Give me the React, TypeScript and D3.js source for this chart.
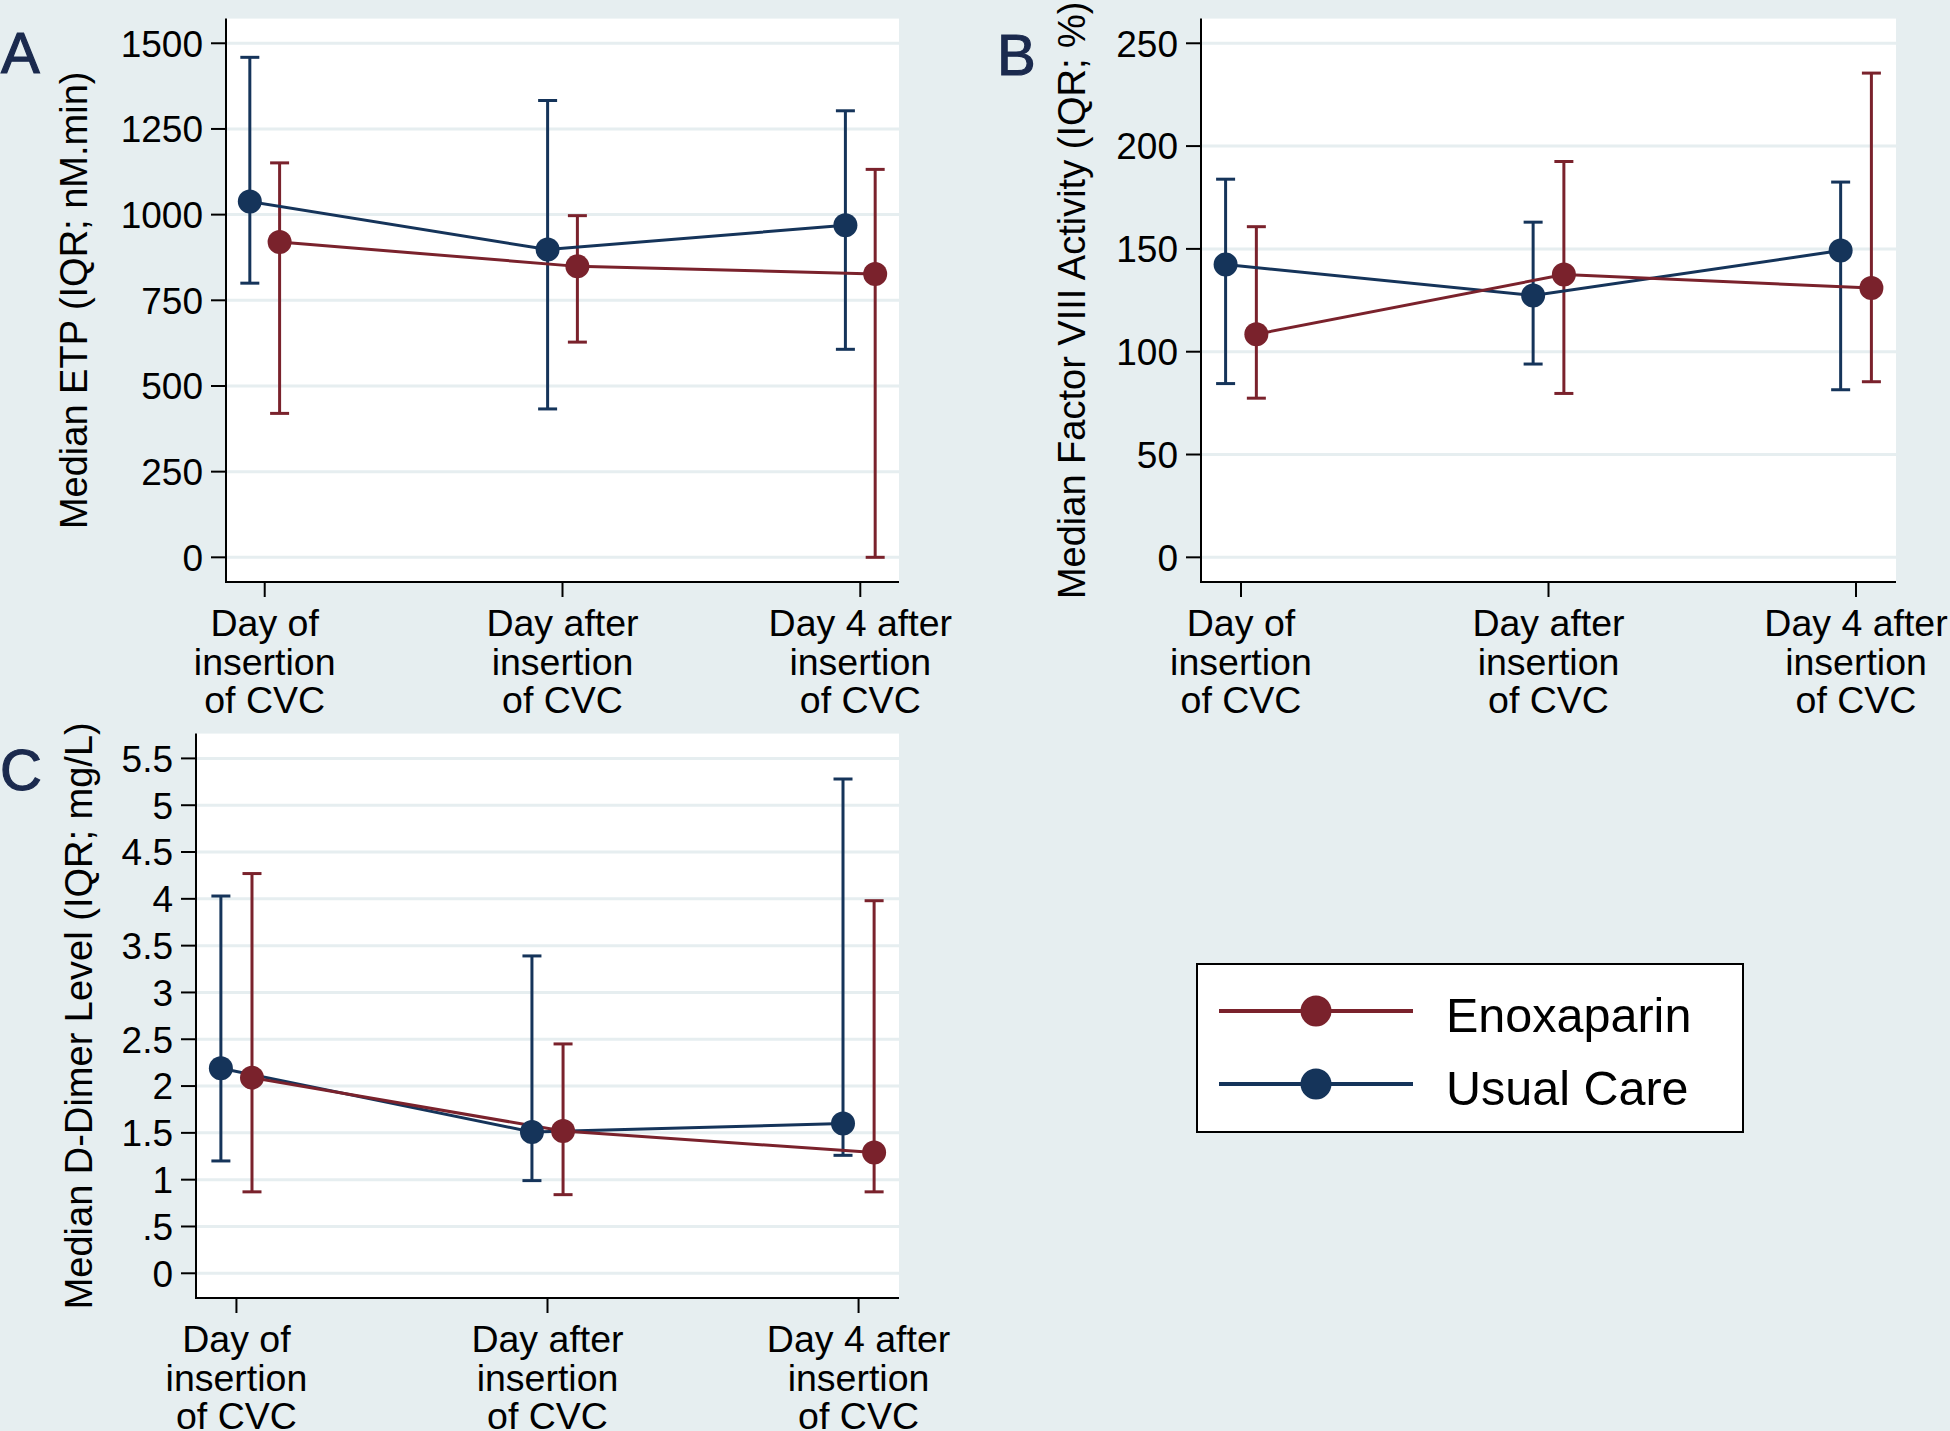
import React from "react";
import * as d3 from "d3";

// ---------- DATA ----------
const categoryLines: string[][] = [
  ["Day of", "insertion", "of CVC"],
  ["Day after", "insertion", "of CVC"],
  ["Day 4 after", "insertion", "of CVC"],
];
const seriesNames = ["Enoxaparin", "Usual Care"];

// Panel A: ETP (nM.min)
const etpEnoxMedian = [920, 849, 827];
const etpEnoxLow = [420, 628, 0];
const etpEnoxHigh = [1151, 997, 1132];
const etpUsualMedian = [1038, 898, 969];
const etpUsualLow = [800, 433, 607];
const etpUsualHigh = [1459, 1333, 1303];
const etpTicks = [0, 250, 500, 750, 1000, 1250, 1500];

// Panel B: Factor VIII (%)
const f8EnoxMedian = [108.5, 137.5, 131];
const f8EnoxLow = [77.4, 79.7, 85.4];
const f8EnoxHigh = [160.8, 192.5, 235.5];
const f8UsualMedian = [142.4, 127.3, 149.2];
const f8UsualLow = [84.5, 94, 81.5];
const f8UsualHigh = [183.9, 163, 182.5];
const f8Ticks = [0, 50, 100, 150, 200, 250];

// Panel C: D-Dimer (mg/L)
const ddEnoxMedian = [2.09, 1.52, 1.29];
const ddEnoxLow = [0.87, 0.84, 0.87];
const ddEnoxHigh = [4.27, 2.45, 3.98];
const ddUsualMedian = [2.19, 1.51, 1.6];
const ddUsualLow = [1.2, 0.99, 1.26];
const ddUsualHigh = [4.03, 3.39, 5.28];
const ddTicks = [0, 0.5, 1, 1.5, 2, 2.5, 3, 3.5, 4, 4.5, 5, 5.5];

// ---------- STYLE ----------
const BG = "#e6eef0";
const GRID = "#e6eef0";
const RED = "#7a222c";
const BLUE = "#15345a";
const LETTER = "#1b2a4e";
const FONT = "'Liberation Sans', Arial, Helvetica, sans-serif";

type Series = { median: number[]; low: number[]; high: number[]; color: string; offset: number };

type PanelProps = {
  letter: string;
  letterX: number;
  letterY: number;
  left: number;
  right: number;
  top: number;
  bottom: number;
  yDomain: [number, number];
  ticks: number[];
  tickFormat: (v: number) => string;
  title: string;
  titleX: number;
  series: Series[];
};

function Panel(p: PanelProps) {
  const x = d3.scaleLinear().domain([-0.13, 2.13]).range([p.left, p.right]);
  const y = d3.scaleLinear().domain(p.yDomain).range([p.bottom, p.top]);
  const cap = 9.5;
  const idx = [0, 1, 2];
  return (
    <g>
      <rect x={p.left} y={p.top} width={p.right - p.left} height={p.bottom - p.top} fill="#ffffff" />
      {p.ticks.map((t) => (
        <line key={"g" + t} x1={p.left} x2={p.right} y1={y(t)} y2={y(t)} stroke={GRID} strokeWidth={3} />
      ))}
      {/* error bars */}
      {p.series.map((s, si) =>
        idx.map((i) => {
          const cx = x(i + s.offset);
          return (
            <g key={"e" + si + i} stroke={s.color} strokeWidth={3}>
              <line x1={cx} x2={cx} y1={y(s.low[i])} y2={y(s.high[i])} />
              <line x1={cx - cap} x2={cx + cap} y1={y(s.low[i])} y2={y(s.low[i])} />
              <line x1={cx - cap} x2={cx + cap} y1={y(s.high[i])} y2={y(s.high[i])} />
            </g>
          );
        })
      )}
      {/* lines */}
      {p.series.map((s, si) => {
        const path = d3
          .line<number>()
          .x((i) => x(i + s.offset))
          .y((i) => y(s.median[i]))(idx);
        return <path key={"l" + si} d={path || ""} fill="none" stroke={s.color} strokeWidth={3} />;
      })}
      {/* markers */}
      {p.series.map((s, si) =>
        idx.map((i) => (
          <circle key={"m" + si + i} cx={x(i + s.offset)} cy={y(s.median[i])} r={12} fill={s.color} />
        ))
      )}
      {/* axes */}
      <line x1={p.left} x2={p.left} y1={p.top} y2={p.bottom + 1} stroke="#000" strokeWidth={2} />
      <line x1={p.left - 1} x2={p.right} y1={p.bottom} y2={p.bottom} stroke="#000" strokeWidth={2} />
      {p.ticks.map((t) => (
        <g key={"t" + t}>
          <line x1={p.left - 15} x2={p.left} y1={y(t)} y2={y(t)} stroke="#000" strokeWidth={2} />
          <text
            x={p.left - 23}
            y={y(t)}
            dy="0.36em"
            textAnchor="end"
            fontFamily={FONT}
            fontSize={37}
            fill="#000"
          >
            {p.tickFormat(t)}
          </text>
        </g>
      ))}
      {idx.map((i) => (
        <g key={"x" + i}>
          <line x1={x(i)} x2={x(i)} y1={p.bottom} y2={p.bottom + 15} stroke="#000" strokeWidth={2} />
          <text textAnchor="middle" fontFamily={FONT} fontSize={37.5} fill="#000">
            {categoryLines[i].map((ln, k) => (
              <tspan key={k} x={x(i)} y={p.bottom + 54 + k * 38.5}>
                {ln}
              </tspan>
            ))}
          </text>
        </g>
      ))}
      <text
        transform={`translate(${p.titleX},${(p.top + p.bottom) / 2}) rotate(-90)`}
        textAnchor="middle"
        fontFamily={FONT}
        fontSize={38}
        fill="#000"
      >
        {p.title}
      </text>
      <text
        x={p.letterX}
        y={p.letterY}
        fontFamily={FONT}
        fontSize={58}
        fill={LETTER}
        stroke={LETTER}
        strokeWidth={1.2}
      >
        {p.letter}
      </text>
    </g>
  );
}

const fmtInt = (v: number) => String(v);
const fmtDec = (v: number) => (v === 0 ? "0" : String(v).replace(/^0\./, "."));

export default function App() {
  const legendRows = [
    { name: seriesNames[0], color: RED, y: 1011 },
    { name: seriesNames[1], color: BLUE, y: 1084 },
  ];
  return (
    <svg
      width={1950}
      height={1431}
      style={{ position: "absolute", left: 0, top: 0, display: "block" }}
    >
      <rect x={0} y={0} width={1950} height={1431} fill={BG} />
      <Panel
        letter="A"
        letterX={1}
        letterY={73}
        left={226}
        right={899}
        top={18.6}
        bottom={582}
        yDomain={[-72, 1572]}
        ticks={etpTicks}
        tickFormat={fmtInt}
        title="Median ETP (IQR; nM.min)"
        titleX={87}
        series={[
          { median: etpUsualMedian, low: etpUsualLow, high: etpUsualHigh, color: BLUE, offset: -0.05 },
          { median: etpEnoxMedian, low: etpEnoxLow, high: etpEnoxHigh, color: RED, offset: 0.05 },
        ]}
      />
      <Panel
        letter="B"
        letterX={997}
        letterY={75}
        left={1201}
        right={1896}
        top={18.6}
        bottom={582}
        yDomain={[-12, 262]}
        ticks={f8Ticks}
        tickFormat={fmtInt}
        title="Median Factor VIII Activity (IQR; %)"
        titleX={1085}
        series={[
          { median: f8UsualMedian, low: f8UsualLow, high: f8UsualHigh, color: BLUE, offset: -0.05 },
          { median: f8EnoxMedian, low: f8EnoxLow, high: f8EnoxHigh, color: RED, offset: 0.05 },
        ]}
      />
      <Panel
        letter="C"
        letterX={0}
        letterY={790}
        left={196}
        right={899}
        top={733.6}
        bottom={1298}
        yDomain={[-0.264, 5.765]}
        ticks={ddTicks}
        tickFormat={fmtDec}
        title="Median D-Dimer Level (IQR; mg/L)"
        titleX={92}
        series={[
          { median: ddUsualMedian, low: ddUsualLow, high: ddUsualHigh, color: BLUE, offset: -0.05 },
          { median: ddEnoxMedian, low: ddEnoxLow, high: ddEnoxHigh, color: RED, offset: 0.05 },
        ]}
      />
      {/* legend */}
      <rect x={1197} y={964} width={546} height={168} fill="#ffffff" stroke="#000" strokeWidth={2} />
      {legendRows.map((r) => (
        <g key={r.name}>
          <line x1={1219} x2={1413} y1={r.y} y2={r.y} stroke={r.color} strokeWidth={4} />
          <circle cx={1316} cy={r.y} r={15.5} fill={r.color} />
          <text x={1446} y={r.y + 21} fontFamily={FONT} fontSize={48.5} fill="#000">
            {r.name}
          </text>
        </g>
      ))}
    </svg>
  );
}
